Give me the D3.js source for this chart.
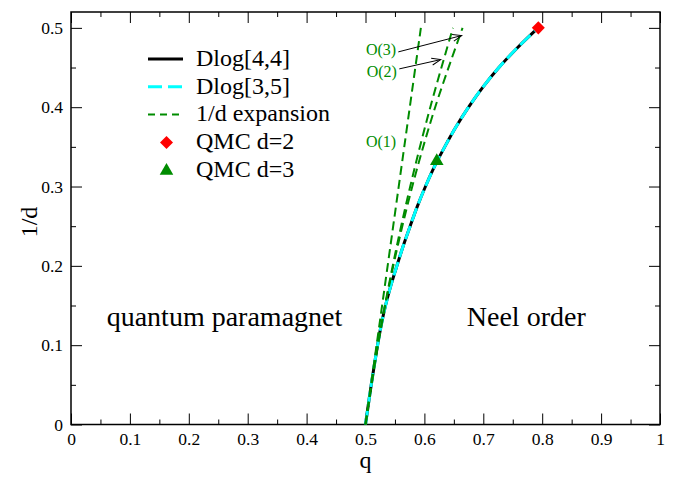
<!DOCTYPE html>
<html>
<head>
<meta charset="utf-8">
<script src="https://cdn.jsdelivr.net/npm/d3@7"></script>
<style>
  body { margin: 0; background: #fff; }
  text { font-family: "Liberation Serif", "Times New Roman", serif; }
</style>
</head>
<body>
<svg id="chart" width="676" height="477"></svg>
<script>
// points are [q, 1/d]
const dlog44 = [
  [0.5, 0], [0.5048, 0.025], [0.50975, 0.05], [0.5205, 0.1], [0.5266, 0.125],
  [0.534, 0.15], [0.543, 0.175], [0.5533, 0.2], [0.564, 0.225], [0.5758, 0.25],
  [0.588, 0.275], [0.6018, 0.3], [0.617, 0.325], [0.6345, 0.35], [0.6535, 0.375],
  [0.675, 0.4], [0.699, 0.425], [0.7265, 0.45], [0.758, 0.475], [0.793, 0.5]
];
const dlog35 = [
  [0.5, 0], [0.5048, 0.025], [0.50975, 0.05], [0.5205, 0.1], [0.5266, 0.125],
  [0.534, 0.15], [0.543, 0.175], [0.5533, 0.2], [0.564, 0.225], [0.5758, 0.25],
  [0.588, 0.275], [0.6018, 0.3], [0.617, 0.325], [0.6345, 0.35], [0.6535, 0.375],
  [0.675, 0.4], [0.699, 0.425], [0.7265, 0.45], [0.758, 0.475], [0.793, 0.5]
];
const order1 = [[0.5, 0], [0.594, 0.5]];
const order2 = [[0.5, 0], [0.5209, 0.1], [0.5462, 0.2], [0.5759, 0.3], [0.61, 0.4], [0.6485, 0.5]];
const order3 = [[0.5, 0], [0.521, 0.1], [0.5472, 0.2], [0.5794, 0.3], [0.6183, 0.4], [0.6648, 0.5]];
const qmcD2 = [[0.7934, 0.5]];
const qmcD3 = [[0.621, 0.3333]];

const xTicks = [0, 0.1, 0.2, 0.3, 0.4, 0.5, 0.6, 0.7, 0.8, 0.9, 1];
const xMinor = [0.05, 0.15, 0.25, 0.35, 0.45, 0.55, 0.65, 0.75, 0.85, 0.95];
const yTicks = [0, 0.1, 0.2, 0.3, 0.4, 0.5];
const yMinor = [0.05, 0.15, 0.25, 0.35, 0.45];

const legendNames = ['Dlog[4,4]', 'Dlog[3,5]', '1/d expansion', 'QMC d=2', 'QMC d=3'];

const green = '#008c00';
const serif = '"Liberation Serif", "Times New Roman", serif';
const svg = d3.select('#chart');
const plotL = 71, plotR = 660, plotT = 12, plotB = 424.5;

const x = d3.scaleLinear().domain([0, 1]).range([plotL, plotR]);
const y = d3.scaleLinear().domain([0, 0.52]).range([plotB, plotT]);

const fmt = (d) => String(+d.toFixed(2));

// axes, ticks pointing inward on all four sides
function axis(gen, tr, vals, size, labels, pad) {
  const g = svg.append('g').attr('transform', tr)
    .call(gen.tickValues(vals).tickSize(size).tickSizeOuter(0).tickPadding(pad)
      .tickFormat(labels ? fmt : ''));
  g.attr('font-family', serif).attr('font-size', 17.5);
  g.select('.domain').remove();
  g.selectAll('line').attr('stroke', '#000').attr('stroke-width', 1);
  g.selectAll('text').attr('fill', '#000');
  return g;
}
axis(d3.axisBottom(x), `translate(0,${plotB})`, xTicks, -11, true, 8);
axis(d3.axisBottom(x), `translate(0,${plotB})`, xMinor, -5, false, 0);
axis(d3.axisTop(x), `translate(0,${plotT})`, xTicks, -11, false, 0);
axis(d3.axisTop(x), `translate(0,${plotT})`, xMinor, -5, false, 0);
axis(d3.axisLeft(y), `translate(${plotL},0)`, yTicks, -11, true, 8);
axis(d3.axisLeft(y), `translate(${plotL},0)`, yMinor, -5, false, 0);
axis(d3.axisRight(y), `translate(${plotR},0)`, yTicks, -11, false, 0);
axis(d3.axisRight(y), `translate(${plotR},0)`, yMinor, -5, false, 0);

svg.append('rect')
  .attr('x', plotL).attr('y', plotT)
  .attr('width', plotR - plotL).attr('height', plotB - plotT)
  .attr('fill', 'none').attr('stroke', '#000').attr('stroke-width', 1.5);

// axis titles
svg.append('text').attr('x', (plotL + plotR) / 2).attr('y', 468)
  .attr('text-anchor', 'middle').attr('font-size', 24).text('q');
svg.append('text').attr('transform', 'translate(37,222) rotate(-90)')
  .attr('text-anchor', 'middle').attr('font-size', 24).text('1/d');

const line = d3.line()
  .x((d) => x(d[0]))
  .y((d) => y(d[1]))
  .curve(d3.curveCatmullRom.alpha(0.5));

svg.append('path').datum(dlog44).attr('d', line)
  .attr('fill', 'none').attr('stroke', '#000').attr('stroke-width', 3);
svg.append('path').datum(dlog35).attr('d', line)
  .attr('fill', 'none').attr('stroke', '#00ffff').attr('stroke-width', 3)
  .attr('stroke-dasharray', '14,5');

[order1, order2, order3].forEach((s) => {
  svg.append('path').datum(s).attr('d', line)
    .attr('fill', 'none').attr('stroke', green).attr('stroke-width', 2)
    .attr('stroke-dasharray', '9,5');
});

const diamond = d3.symbol().type(d3.symbolSquare).size(85);
const tri = d3.symbol().type(d3.symbolTriangle).size(80);

svg.selectAll('.d2').data(qmcD2).join('path')
  .attr('d', diamond)
  .attr('transform', (d) => `translate(${x(d[0])},${y(d[1])}) rotate(45)`)
  .attr('fill', '#ff0000');
svg.selectAll('.d3').data(qmcD3).join('path')
  .attr('d', tri)
  .attr('transform', (d) => `translate(${x(d[0])},${y(d[1]) + 1})`)
  .attr('fill', green);

// order labels and arrows
svg.append('defs').append('marker')
  .attr('id', 'arr').attr('viewBox', '-10 -5 12 10')
  .attr('refX', 0).attr('refY', 0)
  .attr('markerWidth', 12).attr('markerHeight', 10)
  .attr('markerUnits', 'userSpaceOnUse')
  .attr('orient', 'auto')
  .append('path').attr('d', 'M-9,-3.5L0,0L-9,3.5')
  .attr('fill', 'none').attr('stroke', '#000').attr('stroke-width', 1);

const notes = [
  { t: 'O(3)', q: 0.5008, v: 0.4664 },
  { t: 'O(2)', q: 0.502, v: 0.4385 },
  { t: 'O(1)', q: 0.5008, v: 0.3496 }
];
svg.selectAll('.note').data(notes).join('text')
  .attr('x', (d) => x(d.q)).attr('y', (d) => y(d.v))
  .attr('font-size', 16).attr('fill', green).text((d) => d.t);

const arrows = [
  [[0.5557, 0.4697], [0.6633, 0.4903]],
  [[0.5574, 0.4483], [0.6277, 0.46]]
];
svg.selectAll('.arrow').data(arrows).join('line')
  .attr('x1', (d) => x(d[0][0])).attr('y1', (d) => y(d[0][1]))
  .attr('x2', (d) => x(d[1][0])).attr('y2', (d) => y(d[1][1]))
  .attr('stroke', '#000').attr('stroke-width', 1)
  .attr('marker-end', 'url(#arr)');

// region labels
svg.append('text').attr('x', x(0.0606)).attr('y', y(0.124))
  .attr('font-size', 28).text('quantum paramagnet');
svg.append('text').attr('x', x(0.672)).attr('y', y(0.124))
  .attr('font-size', 28).text('Neel order');

// legend
const lg = svg.append('g');
const rowY = (i) => 66 + i * 27.7;
lg.selectAll('text').data(legendNames).join('text')
  .attr('x', 196).attr('y', (d, i) => rowY(i))
  .attr('font-size', 24).text((d) => d);
lg.append('line').attr('x1', 148).attr('x2', 183)
  .attr('y1', rowY(0) - 7).attr('y2', rowY(0) - 7)
  .attr('stroke', '#000').attr('stroke-width', 3);
lg.append('line').attr('x1', 148).attr('x2', 183)
  .attr('y1', rowY(1) - 7).attr('y2', rowY(1) - 7)
  .attr('stroke', '#00ffff').attr('stroke-width', 3)
  .attr('stroke-dasharray', '14,6');
lg.append('line').attr('x1', 148).attr('x2', 183)
  .attr('y1', rowY(2) - 7).attr('y2', rowY(2) - 7)
  .attr('stroke', green).attr('stroke-width', 2)
  .attr('stroke-dasharray', '7,5');
lg.append('path').attr('d', diamond)
  .attr('transform', `translate(166.5,${rowY(3) - 6.5}) rotate(45)`)
  .attr('fill', '#ff0000');
lg.append('path').attr('d', tri)
  .attr('transform', `translate(166.5,${rowY(4) - 6})`)
  .attr('fill', green);
</script>
</body>
</html>
